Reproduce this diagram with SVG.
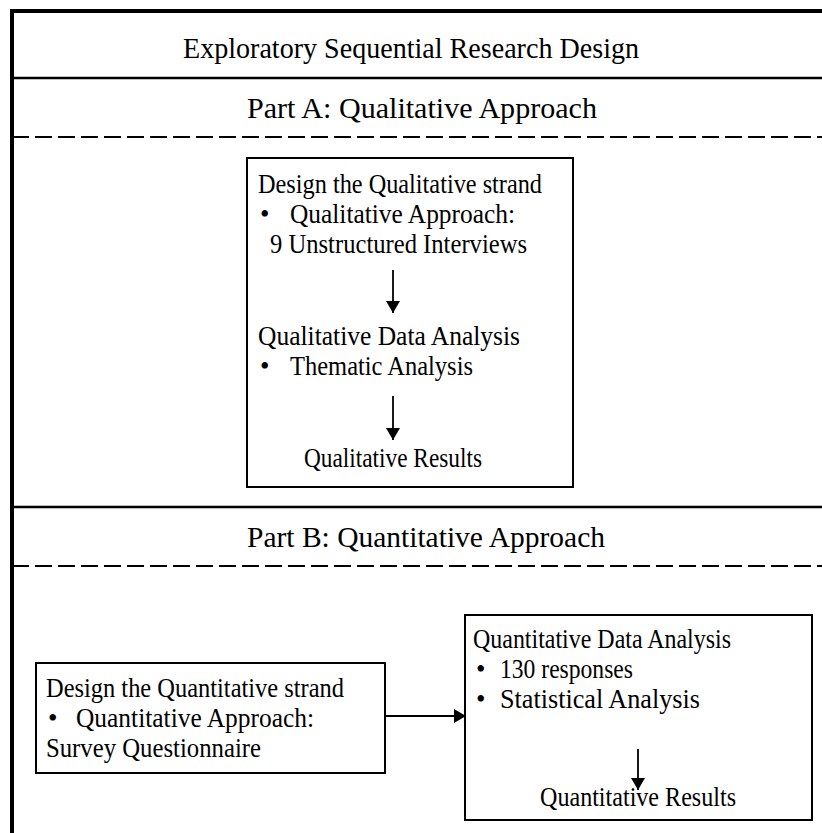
<svg xmlns="http://www.w3.org/2000/svg" width="822" height="833" viewBox="0 0 822 833">
<style>
text{font-family:"Liberation Serif","Times New Roman",serif;fill:#000}
.h{font-size:29px}
.t{font-size:27px}
.frame{stroke:#000;stroke-width:4;fill:none}
.sep{stroke:#000;stroke-width:2.5;fill:none}
.dash{stroke:#000;stroke-width:2;stroke-dasharray:17 6;fill:none}
.box{fill:#fff;stroke:#000;stroke-width:2}
.conn{stroke:#000;stroke-width:1.8;fill:none}
</style>
<defs>
<marker id="ah" viewBox="0 0 12 14" refX="12" refY="7" markerWidth="12" markerHeight="14" markerUnits="userSpaceOnUse" orient="auto">
<path d="M0,0 L12,7 L0,14 z" fill="#000"/>
</marker>
</defs>
<rect width="822" height="833" fill="#fff"/>
<g id="frame">
<line class="frame" x1="10" y1="11" x2="822" y2="11"/>
<line class="frame" x1="12" y1="9" x2="12" y2="833"/>
<line class="sep" x1="12" y1="78" x2="822" y2="78"/>
<line class="dash" x1="12" y1="137" x2="822" y2="137"/>
<line class="sep" x1="12" y1="507" x2="822" y2="507"/>
<line class="dash" x1="12" y1="566" x2="822" y2="566"/>
</g>
<g id="title"><text class="h" x="183" y="58" textLength="456" lengthAdjust="spacingAndGlyphs">Exploratory Sequential Research Design</text></g>
<g id="partA"><text class="h" x="247" y="118" textLength="350" lengthAdjust="spacingAndGlyphs">Part A: Qualitative Approach</text></g>
<g id="partB"><text class="h" x="247" y="547" textLength="358" lengthAdjust="spacingAndGlyphs">Part B: Quantitative Approach</text></g>
<g id="qual">
<rect class="box" x="247" y="158" width="326" height="329"/>
<text class="t" x="258" y="193" textLength="284" lengthAdjust="spacingAndGlyphs">Design the Qualitative strand</text>
<text class="t" x="260" y="223">•</text>
<text class="t" x="290" y="223" textLength="225" lengthAdjust="spacingAndGlyphs">Qualitative Approach:</text>
<text class="t" x="270" y="253" textLength="257" lengthAdjust="spacingAndGlyphs">9 Unstructured Interviews</text>
<text class="t" x="258" y="345" textLength="262" lengthAdjust="spacingAndGlyphs">Qualitative Data Analysis</text>
<text class="t" x="260" y="375">•</text>
<text class="t" x="290" y="375" textLength="183" lengthAdjust="spacingAndGlyphs">Thematic Analysis</text>
<text class="t" x="304" y="467" textLength="178" lengthAdjust="spacingAndGlyphs">Qualitative Results</text>
</g>
<g id="quantDesign">
<rect class="box" x="36" y="663" width="349" height="110"/>
<text class="t" x="46" y="697" textLength="298" lengthAdjust="spacingAndGlyphs">Design the Quantitative strand</text>
<text class="t" x="48" y="727">•</text>
<text class="t" x="76" y="727" textLength="238" lengthAdjust="spacingAndGlyphs">Quantitative Approach:</text>
<text class="t" x="46" y="757" textLength="215" lengthAdjust="spacingAndGlyphs">Survey Questionnaire</text>
</g>
<g id="quantAnalysis">
<rect class="box" x="465" y="615" width="347" height="205"/>
<text class="t" x="473" y="648" textLength="258" lengthAdjust="spacingAndGlyphs">Quantitative Data Analysis</text>
<text class="t" x="476" y="678">•</text>
<text class="t" x="500" y="678" textLength="133" lengthAdjust="spacingAndGlyphs">130 responses</text>
<text class="t" x="476" y="708">•</text>
<text class="t" x="500" y="708" textLength="200" lengthAdjust="spacingAndGlyphs">Statistical Analysis</text>
<text class="t" x="540" y="806" textLength="196" lengthAdjust="spacingAndGlyphs">Quantitative Results</text>
</g>
<g id="connectors">
<line class="conn" x1="393" y1="270" x2="393" y2="313" marker-end="url(#ah)"/>
<line class="conn" x1="393" y1="396" x2="393" y2="440" marker-end="url(#ah)"/>
<line class="conn" x1="385" y1="716" x2="466" y2="716" marker-end="url(#ah)"/>
<line class="conn" x1="638" y1="749" x2="638" y2="790" marker-end="url(#ah)"/>
</g>
</svg>
